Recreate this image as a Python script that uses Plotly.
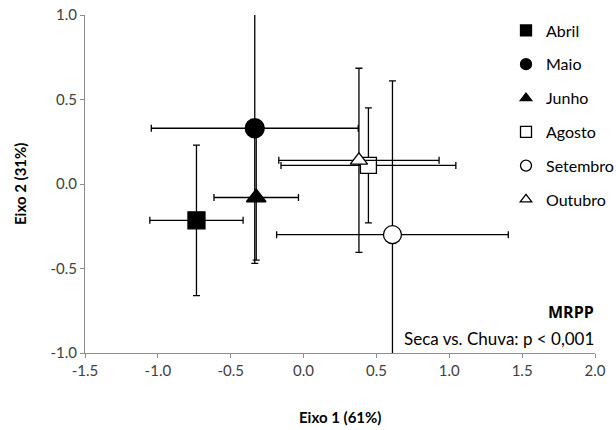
import plotly.graph_objects as go

# ---- data ----
months = ["Abril", "Maio", "Junho", "Agosto", "Setembro", "Outubro"]
eixo1 = [-0.735, -0.335, -0.325, 0.445, 0.61, 0.38]
eixo2 = [-0.215, 0.33, -0.08, 0.11, -0.30, 0.14]
eixo1_err = [0.32, 0.71, 0.29, 0.60, 0.795, 0.55]
eixo2_err = [0.445, 0.80, 0.37, 0.34, 0.91, 0.545]

x_ticks = [-1.5, -1.0, -0.5, 0.0, 0.5, 1.0, 1.5, 2.0]
x_ticktext = ["-1.5", "-1.0", "-0.5", "0.0", "0.5", "1.0", "1.5", "2.0"]
y_ticks = [-1.0, -0.5, 0.0, 0.5, 1.0]
y_ticktext = ["-1.0", "-0.5", "0.0", "0.5", "1.0"]

# ---- styles ----
symbols = ["square", "circle", "triangle-up", "square", "circle", "triangle-up"]
filled = [True, True, True, False, False, False]
sizes = [17, 19, 17, 16, 18, 15]
legend_sizes = [11, 11, 10, 11, 11, 10]
FONT = "Lato, 'Open Sans', sans-serif"
BOLD_FONT = "'Open Sans', Lato, sans-serif"

W, H = 616, 430
# plot area in window pixels: x 85..595, y 15..353
L, R, T, B = 85, 616 - 595, 15, 430 - 353
PW, PH = W - L - R, H - T - B

fig = go.Figure()
for i, m in enumerate(months):
    fill = "black" if filled[i] else "white"
    fig.add_trace(go.Scatter(
        x=[eixo1[i]], y=[eixo2[i]], mode="markers", name=m, showlegend=False,
        marker=dict(symbol=symbols[i], size=sizes[i], color=fill,
                    line=dict(color="black", width=1.3)),
        error_x=dict(type="data", array=[eixo1_err[i]], color="black", thickness=1.3, width=3.5),
        error_y=dict(type="data", array=[eixo2_err[i]], color="black", thickness=1.3, width=3.5),
    ))
# legend entries (smaller symbols, as in the reference)
for i, m in enumerate(months):
    fill = "black" if filled[i] else "white"
    fig.add_trace(go.Scatter(
        x=[None], y=[None], mode="markers", name=m, legendgroup=m,
        marker=dict(symbol=symbols[i], size=legend_sizes[i], color=fill,
                    line=dict(color="black", width=1.3)),
    ))

axis_common = dict(
    showgrid=False, zeroline=False, showline=True, linecolor="#8c8c8c", linewidth=1,
    ticks="outside", tickcolor="#8c8c8c", ticklen=4, automargin=False,
    tickfont=dict(family=FONT, size=15, color="#404040"),
)
fig.update_xaxes(range=[-1.5, 2.0], tickvals=x_ticks, ticktext=x_ticktext, **axis_common)
fig.update_yaxes(range=[-1.0, 1.0], tickvals=y_ticks, ticktext=y_ticktext, **axis_common)

def px(xw):
    return (xw - L) / PW

def py(yw):
    return (H - B - yw) / PH

fig.add_annotation(text="<b>Eixo 1 (61%)</b>", xref="paper", yref="paper",
                   x=0.5, y=py(417), xanchor="center", yanchor="middle",
                   showarrow=False, font=dict(family=FONT, size=15, color="black"))
fig.add_annotation(text="<b>Eixo 2 (31%)</b>", xref="paper", yref="paper",
                   x=px(20), y=0.5, xanchor="center", yanchor="middle",
                   textangle=-90, showarrow=False, font=dict(family=FONT, size=15, color="black"))
fig.add_annotation(text="<b>MRPP</b>", xref="paper", yref="paper",
                   x=px(596), y=py(312), xanchor="right", yanchor="middle",
                   showarrow=False, font=dict(family=BOLD_FONT, size=16, color="black"))
fig.add_annotation(text="Seca vs. Chuva: p < 0,001", xref="paper", yref="paper",
                   x=px(596), y=py(338), xanchor="right", yanchor="middle",
                   showarrow=False, font=dict(family=FONT, size=17, color="black"))

fig.update_layout(
    width=W, height=H,
    margin=dict(l=L, r=R, t=T, b=B, autoexpand=False),
    paper_bgcolor="white", plot_bgcolor="white",
    showlegend=True,
    legend=dict(x=px(506), y=py(115), xanchor="left", yanchor="middle",
                font=dict(family=FONT, size=16, color="black"),
                tracegroupgap=10, bgcolor="rgba(0,0,0,0)"),
)

fig.write_html("out.html", config={"displayModeBar": False},
               post_script="document.body.style.margin='0';")
